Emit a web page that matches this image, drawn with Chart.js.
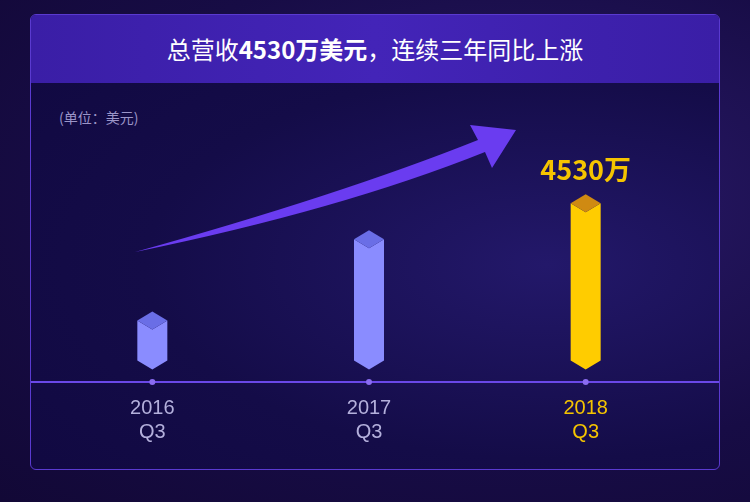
<!DOCTYPE html>
<html><head><meta charset="utf-8">
<script src="https://cdn.jsdelivr.net/npm/chart.js@4/dist/chart.umd.min.js"></script>
<style>
html,body{margin:0;padding:0;width:750px;height:502px;overflow:hidden;background:radial-gradient(ellipse at 70% 40%,#2a1a6a 0%,#170c45 60%,#120836 100%);font-family:"Noto Sans CJK SC","Liberation Sans",sans-serif}
#panel{position:absolute;left:30px;top:14px;width:688px;height:454px;border:1px solid #5a3ad0;border-radius:6px;background:radial-gradient(ellipse at 75% 55%,#23186a 0%,#140c48 55%,#100840 100%);overflow:hidden}
#title{position:absolute;left:0;top:0;width:100%;height:68px;background:linear-gradient(90deg,#3a1ea6,#4324b8,#3a1ea6);color:#fff;font-size:24px;line-height:68px;text-align:center}
#unit{position:absolute;left:28px;top:92px;color:#9b95c8;font-size:14px}
canvas{position:absolute;left:0;top:0}
</style></head><body>
<div id="panel"><div id="title">总营收<b>4530万美元</b>，连续三年同比上涨</div><div id="unit">(单位：美元)</div></div>
<div style="position:absolute;left:0;top:0;width:750px;height:502px"><canvas id="c" width="750" height="502"></canvas></div>
<script>
const categories=[['2016','Q3'],['2017','Q3'],['2018','Q3']];
const revenue=[1500,3600,4530];
const valueLabel='4530万';
const frontColors=['#8a8cff','#8a8cff','#ffcc00'];
const topColors=['#6a6ee6','#6a6ee6','#cf8a12'];
const tickColors=['#b4b0dc','#b4b0dc','#f5c400'];
const deco={id:'deco',
beforeDatasetsDraw(ch){const c=ch.ctx,y=ch.scales.x.top;
 c.save();c.strokeStyle='#6a48e8';c.lineWidth=2;c.beginPath();c.moveTo(31,y);c.lineTo(719,y);c.stroke();
 ch.getDatasetMeta(0).data.forEach(e=>{c.fillStyle='#8a6cf0';c.beginPath();c.arc(e.x,y,3,0,7);c.fill();});
 c.fillStyle='#6a3cf0';c.beginPath();c.moveTo(135,252);c.quadraticCurveTo(340,195,478,140);c.lineTo(470,125);c.lineTo(516,130);c.lineTo(492,168);c.lineTo(485,152);c.quadraticCurveTo(340,210,135,252);c.fill();
 c.restore();},
afterDatasetsDraw(ch){const c=ch.ctx;c.save();
 ch.getDatasetMeta(0).data.forEach((e,i)=>{const x=e.x,y=e.y,b=e.base,w=15,h=9;
  c.fillStyle=frontColors[i];c.beginPath();c.moveTo(x-w,y+h);c.lineTo(x,y+2*h);c.lineTo(x+w,y+h);c.lineTo(x+w,b-h);c.lineTo(x,b);c.lineTo(x-w,b-h);c.closePath();c.fill();
  c.fillStyle=topColors[i];c.beginPath();c.moveTo(x,y);c.lineTo(x+w,y+h);c.lineTo(x,y+2*h);c.lineTo(x-w,y+h);c.closePath();c.fill();
  if(i===2){c.fillStyle='#f5c400';c.font='bold 27px "Noto Sans CJK SC",sans-serif';c.textAlign='center';c.textBaseline='alphabetic';c.fillText(valueLabel,x,y-14);}
 });c.restore();}};
new Chart(document.getElementById('c'),{type:'bar',
data:{labels:categories,datasets:[{data:revenue,backgroundColor:'rgba(0,0,0,0)',barThickness:30}]},
options:{responsive:false,animation:false,events:[],
 layout:{padding:{left:44,right:56,top:100,bottom:52}},
 plugins:{legend:{display:false},tooltip:{enabled:false}},
 scales:{x:{grid:{display:false},border:{display:false},ticks:{color:c=>tickColors[c.index],font:{size:20,family:'"Liberation Sans",Arial'},padding:6}},
  y:{display:false,min:-320,max:6960}}},
 plugins:[deco]});
</script></body></html>
